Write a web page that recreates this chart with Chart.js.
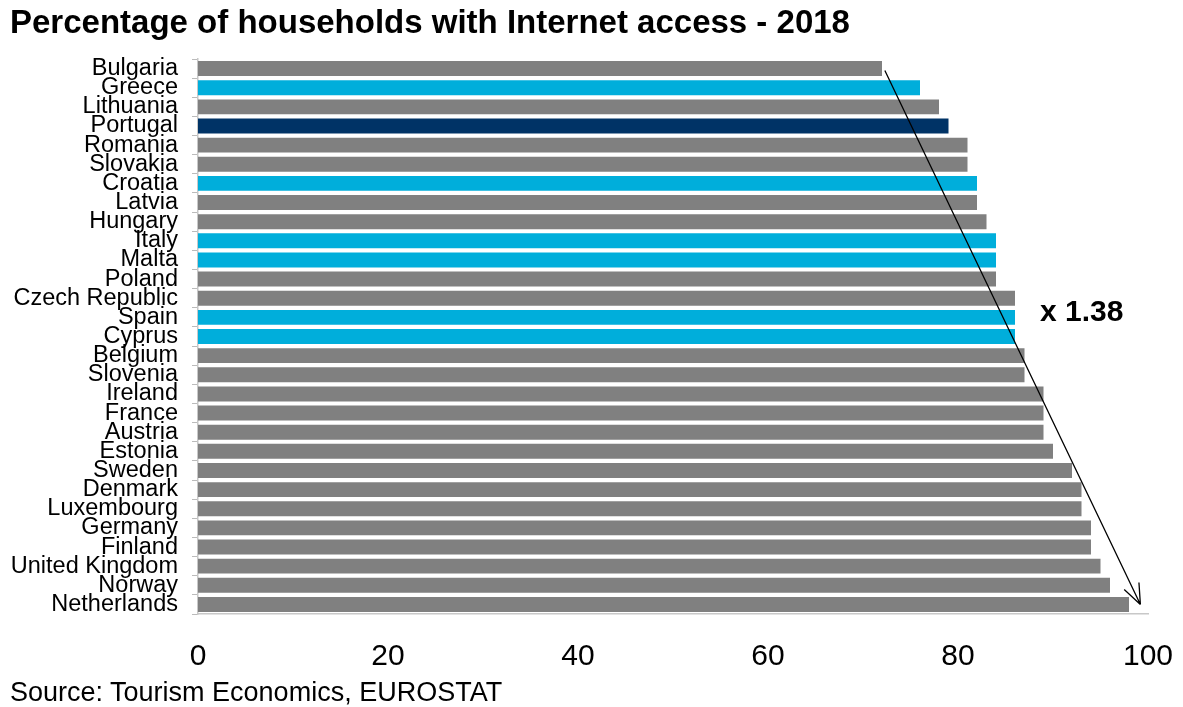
<!DOCTYPE html>
<html>
<head>
<meta charset="utf-8">
<script src="https://cdn.jsdelivr.net/npm/chart.js@4/dist/chart.umd.min.js"></script>
<style>
  body { margin: 0; background: #fff; font-family: "Liberation Sans", Arial, sans-serif; }
  #wrap { position: relative; width: 1183px; height: 707px; }
  #title { position: absolute; left: 10px; top: 3px; font-size: 33px; font-weight: bold; color: #000; white-space: nowrap; }
  #source { position: absolute; left: 10px; top: 677px; font-size: 27px; color: #000; white-space: nowrap; }
  #ratio { position: absolute; left: 1040px; top: 294px; font-size: 30px; font-weight: bold; color: #000; }
  canvas { position: absolute; left: 0; top: 0; }
</style>
</head>
<body>
<div id="wrap">
  <canvas id="internetChart" width="1183" height="707"></canvas>
  <div id="title">Percentage of households with Internet access - 2018</div>
  <div id="ratio">x 1.38</div>
  <div id="source">Source: Tourism Economics, EUROSTAT</div>
</div>
<script>
// data
const countries = ['Bulgaria', 'Greece', 'Lithuania', 'Portugal', 'Romania', 'Slovakia', 'Croatia',
  'Latvia', 'Hungary', 'Italy', 'Malta', 'Poland', 'Czech Republic', 'Spain', 'Cyprus', 'Belgium',
  'Slovenia', 'Ireland', 'France', 'Austria', 'Estonia', 'Sweden', 'Denmark', 'Luxembourg',
  'Germany', 'Finland', 'United Kingdom', 'Norway', 'Netherlands'];
const values = [72, 76, 78, 79, 81, 81, 82, 82, 83, 84, 84, 84, 86, 86, 86, 87, 87, 89, 89, 89, 90,
  92, 93, 93, 94, 94, 95, 96, 98];
const peers = ['Greece', 'Croatia', 'Italy', 'Malta', 'Spain', 'Cyprus'];
const focus = 'Portugal';
const xTicks = [0, 20, 40, 60, 80, 100];
// arrow from lowest to highest
const arrowFrom = 72.3;
const arrowTo = 99.2;

const barColors = countries.map(c => c === focus ? '#003366' : (peers.includes(c) ? '#00AEDB' : '#808080'));

// trend arrow drawn through the scales
const arrowPlugin = {
  id: 'arrow',
  afterDatasetsDraw(chart) {
    const { ctx, scales: { x, y } } = chart;
    const x1 = x.getPixelForValue(arrowFrom), y1 = y.getPixelForValue(0) + 2;
    const x2 = x.getPixelForValue(arrowTo), y2 = y.getPixelForValue(countries.length - 1);
    ctx.save();
    ctx.strokeStyle = '#000';
    ctx.lineWidth = 1.3;
    ctx.beginPath();
    ctx.moveTo(x1, y1);
    ctx.lineTo(x2, y2);
    const ang = Math.atan2(y2 - y1, x2 - x1);
    const len = 22;
    ctx.moveTo(x2, y2);
    ctx.lineTo(x2 - len * Math.cos(ang - 0.38), y2 - len * Math.sin(ang - 0.38));
    ctx.moveTo(x2, y2);
    ctx.lineTo(x2 - len * Math.cos(ang + 0.38), y2 - len * Math.sin(ang + 0.38));
    ctx.stroke();
    ctx.restore();
  }
};

const ctx = document.getElementById('internetChart');
new Chart(ctx, {
  type: 'bar',
  data: {
    labels: countries,
    datasets: [{
      data: values,
      backgroundColor: barColors,
      barPercentage: 0.78,
      categoryPercentage: 1
    }]
  },
  options: {
    indexAxis: 'y',
    responsive: false,
    animation: false,
    layout: { padding: { top: 59, right: 35, left: 0, bottom: 0 } },
    plugins: { legend: { display: false }, tooltip: { enabled: false } },
    scales: {
      x: {
        min: 0,
        max: 100,
        afterBuildTicks: s => { s.ticks = xTicks.map(v => ({ value: v })); },
        afterFit: s => { s.height = 93; s.paddingLeft = 0; s.paddingRight = 0; },
        grid: { display: false, drawTicks: false },
        border: { display: true, color: '#c8c8c8', width: 1.5 },
        ticks: {
          color: '#000',
          padding: 25,
          maxRotation: 0,
          font: { family: '"Liberation Sans", Arial, sans-serif', size: 30 }
        }
      },
      y: {
        afterFit: s => { s.width = 198; },
        grid: { drawOnChartArea: false, drawTicks: true, tickLength: 6, color: '#bbbbbb' },
        border: { display: true, color: '#c8c8c8', width: 1.5 },
        ticks: {
          color: '#000',
          padding: 14,
          autoSkip: false,
          font: { family: '"Liberation Sans", Arial, sans-serif', size: 23.5 }
        }
      }
    }
  },
  plugins: [arrowPlugin]
});
</script>
</body>
</html>
